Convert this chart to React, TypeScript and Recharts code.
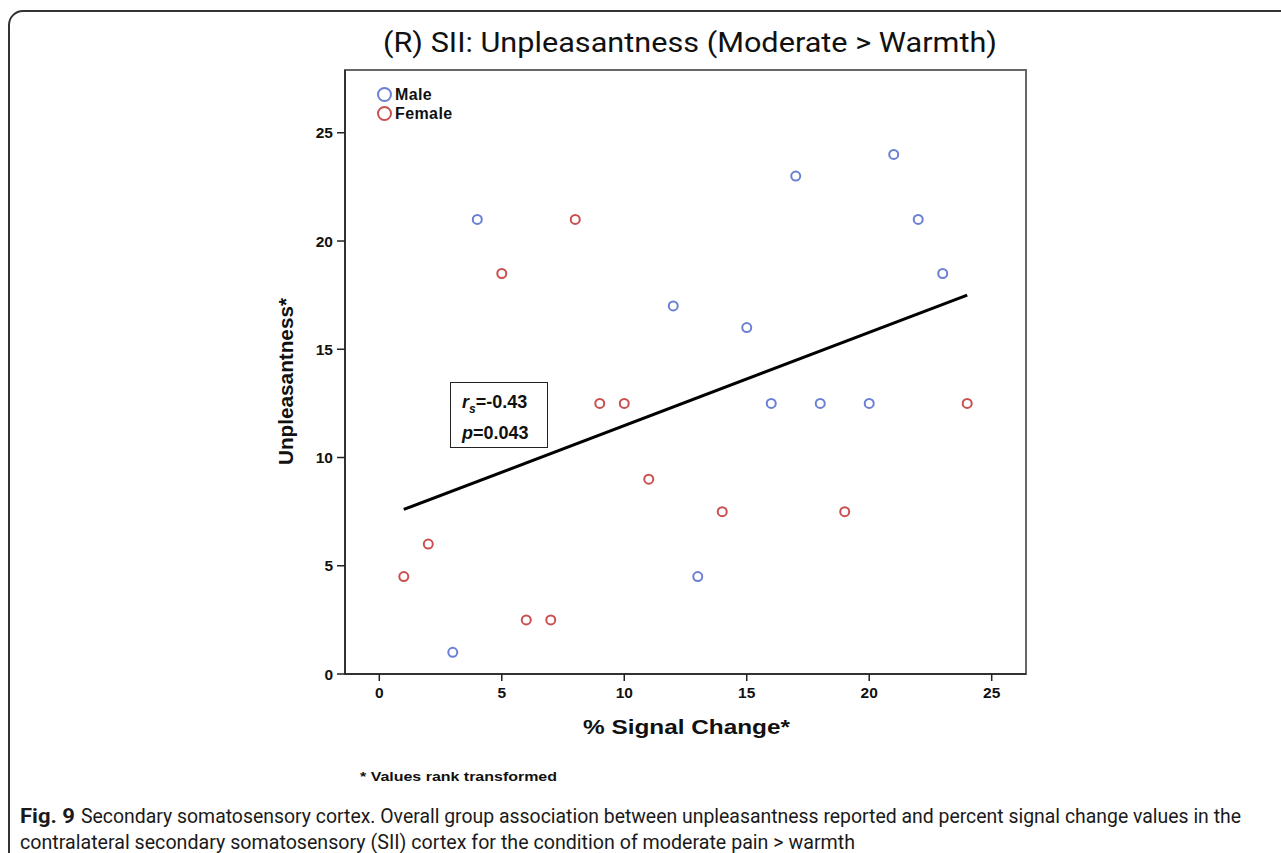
import React from "react";
import {
  ReferenceArea,
  Scatter,
  ScatterChart,
  XAxis,
  YAxis,
} from "recharts";

// Rank-transformed values.
const maleX = [3, 4, 12, 13, 15, 16, 17, 18, 20, 21, 22, 23];
const maleY = [1, 21, 17, 4.5, 16, 12.5, 23, 12.5, 12.5, 24, 21, 18.5];
const femaleX = [1, 2, 5, 6, 7, 8, 9, 10, 11, 14, 19, 24];
const femaleY = [4.5, 6, 18.5, 2.5, 2.5, 21, 12.5, 12.5, 9, 7.5, 7.5, 12.5];
const fitX = [1, 24];
const fitY = [7.6, 17.5];
const xTicks = [0, 5, 10, 15, 20, 25];
const yTicks = [0, 5, 10, 15, 20, 25];

const male = maleX.map((x, i) => ({ x, y: maleY[i] }));
const female = femaleX.map((x, i) => ({ x, y: femaleY[i] }));
const fit = fitX.map((x, i) => ({ x, y: fitY[i] }));

const BLUE = "#6b80d4";
const RED = "#c9504f";

const ring = (color: string) => (props: any) => (
  <circle
    cx={props.cx}
    cy={props.cy}
    r={4.5}
    fill="none"
    stroke={color}
    strokeWidth={2}
  />
);

const narrow = "Liberation Sans Narrow, Roboto, sans-serif";
const bold = "Liberation Sans, Arial, sans-serif";

// tick labels drawn by hand so size and weight stick
const XTick = (props: any) => (
  <text
    x={props.x}
    y={props.y + 15}
    textAnchor="middle"
    style={{ fontFamily: bold, fontWeight: 700, fontSize: "15.5px", fill: "#111" }}
  >
    {props.payload.value}
  </text>
);
const YTick = (props: any) => (
  <text
    x={props.x - 2}
    y={props.y + 5.5}
    textAnchor="end"
    style={{ fontFamily: bold, fontWeight: 700, fontSize: "15.5px", fill: "#111" }}
  >
    {props.payload.value}
  </text>
);

export default function App() {
  return (
    <div style={{ position: "absolute", left: 0, top: 0, width: 1281, height: 853, background: "#fff", overflow: "hidden" }}>
      <svg width={1281} height={853} style={{ position: "absolute", left: 0, top: 0 }}>
        <rect x={9} y={11} width={1300} height={900} rx={14} fill="none" stroke="#333" strokeWidth={2} />
        <text x={383} y={52} fontSize={28} fontFamily={narrow} fill="#111" textLength={614} lengthAdjust="spacingAndGlyphs">
          (R) SII: Unpleasantness (Moderate &gt; Warmth)
        </text>
        <text x={583} y={734} fontSize={20} fontFamily={bold} fontWeight={700} fill="#111" textLength={207} lengthAdjust="spacingAndGlyphs">
          % Signal Change*
        </text>
        <text
          x={0}
          y={0}
          transform="translate(293,465) rotate(-90)"
          fontSize={20}
          fontFamily={bold}
          fontWeight={700}
          fill="#111"
          textLength={167}
          lengthAdjust="spacingAndGlyphs"
        >
          Unpleasantness*
        </text>
        <text x={360} y={781} fontSize={13} fontFamily={bold} fontWeight={700} fill="#111" textLength={197} lengthAdjust="spacingAndGlyphs">
          * Values rank transformed
        </text>
        <text x={20} y={823} fontSize={20} fontFamily={narrow} fontWeight={700} fill="#1a1a1a" textLength={55} lengthAdjust="spacingAndGlyphs">
          Fig. 9
        </text>
        <text x={81} y={823} fontSize={20} fontFamily={narrow} fill="#1a1a1a" textLength={1160} lengthAdjust="spacingAndGlyphs">
          Secondary somatosensory cortex. Overall group association between unpleasantness reported and percent signal change values in the
        </text>
        <text x={20} y={849} fontSize={20} fontFamily={narrow} fill="#1a1a1a" textLength={835} lengthAdjust="spacingAndGlyphs">
          contralateral secondary somatosensory (SII) cortex for the condition of moderate pain &gt; warmth
        </text>
      </svg>

      <div style={{ position: "absolute", left: 0, top: 0 }}>
        <ScatterChart width={1281} height={853} margin={{ top: 70, right: 255, bottom: 139, left: 285 }}>
          <XAxis
            type="number"
            dataKey="x"
            domain={[-1.4, 26.4]}
            ticks={xTicks}
            allowDataOverflow
            height={40}
            tick={XTick}
            tickSize={7}
            tickLine={{ stroke: "#222", strokeWidth: 1.5 }}
            axisLine={{ stroke: "#222", strokeWidth: 1.5 }}
          />
          <YAxis
            type="number"
            dataKey="y"
            domain={[0, 27.9]}
            ticks={yTicks}
            allowDataOverflow
            width={60}
            tick={YTick}
            tickSize={8}
            tickLine={{ stroke: "#222", strokeWidth: 1.5 }}
            axisLine={{ stroke: "#222", strokeWidth: 1.5 }}
          />
          <ReferenceArea x1={-1.4} x2={26.4} y1={0} y2={27.9} fill="none" stroke="#666" strokeWidth={2} />
          <Scatter data={fit} line={{ stroke: "#000", strokeWidth: 3 }} lineType="joint" shape={() => <g />} isAnimationActive={false} />
          <Scatter data={male} shape={ring(BLUE)} isAnimationActive={false} />
          <Scatter data={female} shape={ring(RED)} isAnimationActive={false} />
        </ScatterChart>
      </div>

      {/* legend */}
      <div style={{ position: "absolute", left: 377, top: 85, fontFamily: bold, fontWeight: 700, fontSize: 16, color: "#111", lineHeight: "19px" }}>
        {[
          { name: "Male", color: BLUE },
          { name: "Female", color: RED },
        ].map((d) => (
          <div key={d.name} style={{ display: "flex", alignItems: "center" }}>
            <span style={{ width: 15, height: 15, borderRadius: "50%", border: `2px solid ${d.color}`, boxSizing: "border-box", marginRight: 3 }} />
            <span style={{ letterSpacing: 0.4 }}>{d.name}</span>
          </div>
        ))}
      </div>

      {/* statistics box */}
      <div
        style={{
          position: "absolute",
          left: 450,
          top: 382,
          width: 98,
          height: 66,
          border: "1.5px solid #222",
          boxSizing: "border-box",
          fontFamily: bold,
          fontWeight: 700,
          fontSize: 18,
          color: "#111",
          padding: "7px 0 0 11px",
          lineHeight: "24px",
        }}
      >
        <div>
          <i>r</i>
          <sub style={{ fontSize: 12, fontStyle: "italic" }}>s</sub>=-0.43
        </div>
        <div>
          <i>p</i>=0.043
        </div>
      </div>
    </div>
  );
}
